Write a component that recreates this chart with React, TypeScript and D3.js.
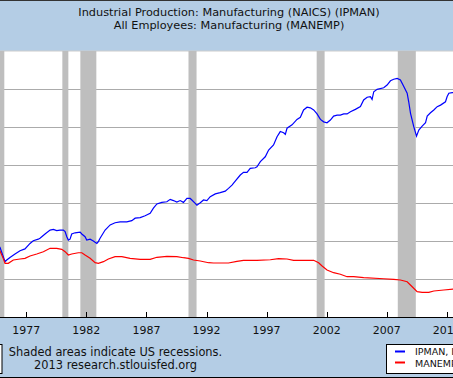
import React from "react";
import * as d3 from "d3";

const titleLines = [
  "Industrial Production: Manufacturing (NAICS) (IPMAN)",
  "All Employees: Manufacturing (MANEMP)",
];
const yearTicks = [1977, 1982, 1987, 1992, 1997, 2002, 2007, 2012];
const recessionStarts = [1973.83, 1980.0, 1981.5, 1990.5, 2001.17, 2007.92];
const recessionEnds = [1975.17, 1980.5, 1982.83, 1991.17, 2001.83, 2009.42];
const leftGrid = [37.5, 50, 62.5, 75, 87.5, 100];

const ipmanDates = [
  1974.5, 1974.81, 1975.23, 1975.37, 1975.64, 1976.06, 1976.48, 1976.89, 1977.31, 1977.58, 1978.0, 1978.14,
  1978.56, 1978.98, 1979.25, 1979.53, 1979.81, 1980.08, 1980.23, 1980.37, 1980.5, 1980.64, 1980.78, 1981.06,
  1981.48, 1981.62, 1981.89, 1982.03, 1982.31, 1982.58, 1982.87, 1983.0, 1983.14, 1983.56, 1983.98, 1984.39,
  1984.81, 1985.37, 1985.78, 1986.06, 1986.48, 1986.89, 1987.31, 1987.58, 1987.87, 1988.28, 1988.7, 1988.98,
  1989.25, 1989.53, 1989.81, 1990.08, 1990.37, 1990.64, 1990.78, 1991.06, 1991.2, 1991.48, 1991.75, 1992.03,
  1992.31, 1992.73, 1993.14, 1993.56, 1993.83, 1994.12, 1994.39, 1994.81, 1995.08, 1995.37, 1995.64, 1996.06,
  1996.2, 1996.48, 1996.89, 1997.17, 1997.58, 1997.87, 1998.14, 1998.42, 1998.56, 1998.7, 1999.12, 1999.53,
  1999.81, 2000.08, 2000.37, 2000.64, 2000.92, 2001.2, 2001.48, 2001.75, 2002.03, 2002.31, 2002.58, 2002.87,
  2003.14, 2003.42, 2003.7, 2003.98, 2004.39, 2004.81, 2005.08, 2005.37, 2005.64, 2005.78, 2005.92, 2006.2,
  2006.75, 2007.03, 2007.31, 2007.58, 2007.87, 2008.14, 2008.42, 2008.7, 2008.83, 2008.98, 2009.25, 2009.48,
  2009.67, 2009.95, 2010.23, 2010.37, 2010.64, 2010.92, 2011.2, 2011.48, 2011.89, 2012.03, 2012.17, 2012.45,
  2012.8, 2013.2,
];
const ipmanValues = [
  49.0, 47.9, 43.2, 43.75, 44.6, 45.7, 46.8, 47.4, 49.2, 50.1, 50.6, 50.9,
  52.3, 53.6, 53.8, 53.4, 53.6, 53.6, 53.1, 51.4, 50.3, 50.6, 52.3, 52.7,
  52.9, 52.3, 51.4, 50.3, 50.6, 50.0, 49.2, 49.8, 50.9, 53.6, 55.3, 56.0,
  56.3, 56.3, 56.7, 57.5, 57.7, 58.3, 59.1, 60.8, 62.2, 62.7, 62.9, 63.7,
  63.3, 62.8, 63.3, 62.7, 64.0, 64.0, 63.5, 62.4, 61.8, 62.6, 63.5, 63.3,
  64.6, 65.5, 65.9, 66.4, 67.3, 68.4, 69.7, 71.7, 72.6, 72.6, 73.9, 74.1,
  74.4, 76.1, 77.7, 79.9, 81.6, 84.3, 86.0, 85.6, 85.1, 87.1, 88.2, 90.0,
  90.7, 93.1, 94.0, 93.8, 93.1, 91.8, 90.0, 89.2, 88.9, 89.8, 91.1, 91.4,
  91.4, 91.8, 91.8, 92.5, 93.3, 94.2, 96.4, 97.3, 97.5, 96.6, 99.1, 99.9,
  100.4, 101.3, 102.7, 103.2, 103.5, 103.0, 100.8, 98.6, 95.8, 92.0, 87.6, 84.5,
  86.5, 87.8, 88.9, 91.1, 92.2, 93.1, 94.2, 94.7, 95.8, 97.5, 98.6, 98.8,
  98.9, 99.3,
];

const manempDates = [
  1974.5, 1974.81, 1975.08, 1975.23, 1975.5, 1975.92, 1976.48, 1976.89, 1977.31, 1977.87, 1978.42, 1978.98,
  1979.53, 1979.95, 1980.23, 1980.5, 1980.78, 1981.33, 1981.62, 1981.89, 1982.31, 1982.73, 1983.0, 1983.42,
  1983.83, 1984.39, 1984.95, 1985.64, 1986.48, 1987.31, 1987.87, 1988.7, 1989.53, 1990.08, 1990.5, 1990.92,
  1991.48, 1992.17, 1992.58, 1993.83, 1994.53, 1995.08, 1996.2, 1997.31, 1998.0, 1998.7, 1999.25, 1999.81,
  2000.92, 2001.33, 2001.62, 2002.03, 2002.58, 2003.14, 2003.7, 2004.25, 2005.08, 2006.75, 2007.58, 2008.14,
  2008.7, 2009.12, 2009.53, 2009.95, 2010.5, 2010.92, 2011.75, 2012.56, 2013.2,
];
const manempValues = [
  19500, 19160, 17800, 16890, 16890, 17500, 17680, 17810, 18240, 18600, 19030, 19650,
  19650, 19470, 19030, 18420, 18600, 18840, 18840, 18420, 17810, 17000, 16890, 17190,
  17680, 18110, 18110, 17810, 17630, 17630, 18000, 18180, 18110, 17920, 17810, 17500,
  17320, 17000, 16950, 16950, 17260, 17440, 17440, 17550, 17740, 17680, 17440, 17440,
  17440, 17000, 16390, 15660, 15160, 14870, 14420, 14420, 14240, 14050, 13940, 13820,
  13500, 12580, 11660, 11550, 11550, 11790, 11970, 12160, 12170,
];

const legendLabels = ["IPMAN, Index 2007=100 (Left)", "MANEMP, Thousands of Persons (Right)"];
const notes = ["Shaded areas indicate US recessions.", "2013 research.stlouisfed.org"];

const W = 453;
const H = 378;
const plotTop = 51;
const plotBottom = 317;
const band = "#B4CDE5";
const font = "'DejaVu Sans', Verdana, sans-serif";

export default function App() {
  const x = d3.scaleLinear().domain([1977, 2012]).range([26.3, 446.8]);
  const yL = d3.scaleLinear().domain([25, 112.5]).range([plotBottom, plotTop]);
  const yR = d3.scaleLinear().domain([7000, 56000]).range([plotBottom, plotTop]);

  const ipmanLine = d3
    .line<number>()
    .x((_, i) => x(ipmanDates[i]))
    .y((d) => yL(d))(ipmanValues) as string;
  const manempLine = d3
    .line<number>()
    .x((_, i) => x(manempDates[i]))
    .y((d) => yR(d))(manempValues) as string;

  return (
    <svg
      width={W}
      height={H}
      style={{ position: "absolute", left: 0, top: 0 }}
      fontFamily={font}
    >
      <defs>
        <clipPath id="plotClip">
          <rect x={0} y={plotTop} width={W} height={plotBottom - plotTop} />
        </clipPath>
      </defs>
      <rect x={0} y={0} width={W} height={H} fill={band} />
      <line x1={0} x2={W} y1={0.5} y2={0.5} stroke="#333" />
      {titleLines.map((t, i) => (
        <text key={i} x={229} y={15.5 + i * 13.5} textAnchor="middle" fontSize={11.3} fill="#111">
          {t}
        </text>
      ))}
      <rect x={0} y={plotTop} width={W} height={plotBottom - plotTop} fill="#fff" />
      <line x1={0} x2={W} y1={plotTop} y2={plotTop} stroke="#ccc" strokeWidth={1} />
      {leftGrid.map((v) => (
        <line
          key={v}
          x1={0}
          x2={W}
          y1={Math.round(yL(v)) + 0.5}
          y2={Math.round(yL(v)) + 0.5}
          stroke="#ABABAB"
        />
      ))}
      {recessionStarts.map((s, i) => (
        <rect
          key={i}
          x={x(s)}
          y={plotTop}
          width={x(recessionEnds[i]) - x(s)}
          height={plotBottom - plotTop}
          fill="#BEBEBE"
          clipPath="url(#plotClip)"
        />
      ))}
      <g clipPath="url(#plotClip)">
        <path d={ipmanLine} fill="none" stroke="#0000FF" strokeWidth={1.2} />
        <path d={manempLine} fill="none" stroke="#FF0000" strokeWidth={1.2} />
      </g>
      <line x1={0} x2={W} y1={plotBottom + 0.5} y2={plotBottom + 0.5} stroke="#000" />
      {yearTicks.map((yr) => (
        <g key={yr}>
          <line
            x1={Math.round(x(yr)) + 0.5}
            x2={Math.round(x(yr)) + 0.5}
            y1={plotBottom - 5}
            y2={plotBottom}
            stroke="#000"
          />
          <text x={x(yr)} y={333.5} textAnchor="middle" fontSize={11} fill="#111">
            {yr}
          </text>
        </g>
      ))}
      {notes.map((t, i) => (
        <text key={i} x={115.5} y={355.5 + i * 13.5} textAnchor="middle" fontSize={11.4} fill="#111">
          {t}
        </text>
      ))}
      <rect x={-10} y={344.5} width={12} height={29} fill="#fff" stroke="#000" />
      <rect x={386.5} y={344.5} width={80} height={29} fill="#fff" stroke="#000" />
      <line x1={395} x2={405} y1={351.5} y2={351.5} stroke="#0000FF" strokeWidth={2} />
      <line x1={395} x2={405} y1={362.5} y2={362.5} stroke="#FF0000" strokeWidth={2} />
      {legendLabels.map((t, i) => (
        <text key={i} x={415} y={355 + i * 11.5} fontSize={9.5} fill="#111">
          {t}
        </text>
      ))}
      <line x1={0} x2={W} y1={377.5} y2={377.5} stroke="#000" />
    </svg>
  );
}
